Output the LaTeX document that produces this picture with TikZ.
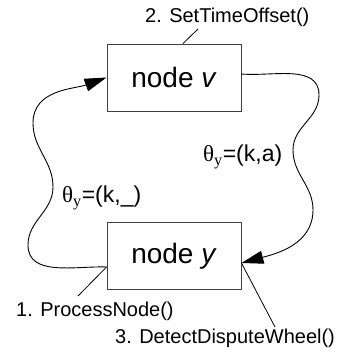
\documentclass[tikz,border=0pt]{standalone}
\usepackage{fontspec}
\setmainfont{Liberation Sans}
\newfontfamily\symfont{Liberation Serif}
\usetikzlibrary{arrows.meta}

\begin{document}
\begin{tikzpicture}[x=1pt,y=1pt,
  box/.style={draw=black!75, line width=0.9pt, minimum width=134pt,
    minimum height=67pt, inner sep=0pt, font=\fontsize{28}{32}\selectfont},
  lbl/.style={font=\fontsize{20}{24}\selectfont, inner sep=0pt, anchor=base west},
  eq/.style={font=\fontsize{23}{27}\selectfont, inner sep=0pt, anchor=base west},
  wire/.style={line width=0.8pt},
  flow/.style={line width=0.9pt, -{Triangle[length=22pt,width=13pt]}},
]
\useasboundingbox (0,0) rectangle (338,352);

% the two nodes
\node[box] (nv) at (174,274.5) {node \textit{v}};
\node[box] (ny) at (174,96) {node \textit{y}};

% attachment points of the curved arrows
\coordinate (ys) at ([yshift=-11pt]ny.west);
\coordinate (vt) at (nv.west);
\coordinate (vs) at ([yshift=3.5pt]nv.east);
\coordinate (yt) at ([yshift=-7pt]ny.east);

% message from y to v
\draw[flow] (ys) to[out=178,in=-90] (28,107)
  to[out=90,in=-90] (53,165)
  to[out=90,in=-90] (33,229)
  to[out=90,in=200] (vt);

% answer from v back to y
\draw[flow] (vs) to[out=-5,in=90] (319,257)
  to[out=-90,in=90] (293,202)
  to[out=-90,in=90] (313,142)
  to[out=-90,in=15] (yt);

% step labels with their leader lines
\node[lbl] (l2) at (145,329) {2. SetTimeOffset()};
\node[lbl] (l1) at (16,35) {1. ProcessNode()};
\node[lbl] (l3) at (115,9) {3. DetectDisputeWheel()};

\coordinate (c2) at (198,323);
\coordinate (c1) at (78,56);
\coordinate (c3) at (275,25);
\draw[wire] ([xshift=9pt]nv.north) -- (c2);
\draw[wire] (ys) -- (c1);
\draw[wire] (yt) -- (c3);

% message contents
\node[eq] (e1) at (62,149) {{\symfont θ\textsubscript{y}}=(k,\_)};
\node[eq] (e2) at (203,190) {{\symfont θ\textsubscript{y}}=(k,a)};
\end{tikzpicture}
\end{document}
